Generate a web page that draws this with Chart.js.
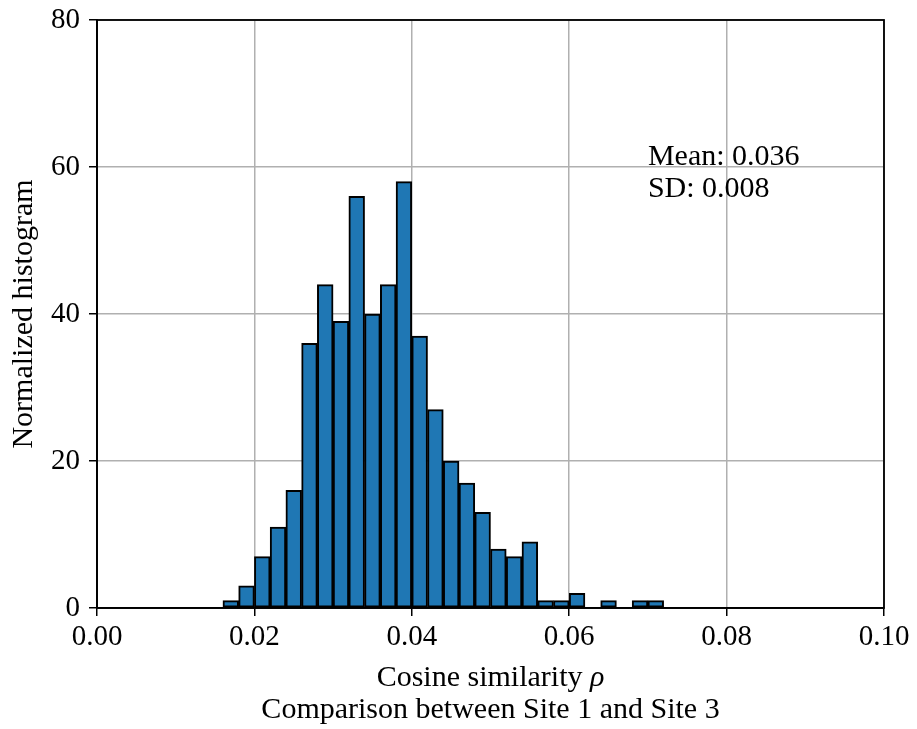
<!DOCTYPE html>
<html>
<head>
<meta charset="utf-8">
<script src="https://cdn.jsdelivr.net/npm/chart.js@4.4.1/dist/chart.umd.min.js"></script>
<style>
  html, body { margin: 0; padding: 0; background: #fff; }
  #wrap { width: 917px; height: 729px; position: relative; }
</style>
</head>
<body>
<div id="wrap"><canvas id="hist"></canvas></div>
<script>
// Histogram of cosine similarity, Site 1 vs Site 3
const BIN_WIDTH = 0.002;
const binStarts = [
  0.016, 0.018, 0.020, 0.022, 0.024, 0.026, 0.028, 0.030, 0.032, 0.034,
  0.036, 0.038, 0.040, 0.042, 0.044, 0.046, 0.048, 0.050, 0.052, 0.054,
  0.056, 0.058, 0.060, 0.062, 0.064, 0.066, 0.068, 0.070
];
const counts = [
  1, 3, 7, 11, 16, 36, 44, 39, 56, 40,
  44, 58, 37, 27, 20, 17, 13, 8, 7, 9,
  1, 1, 2, null, 1, null, 1, 1
];
const xTicks = [0, 0.02, 0.04, 0.06, 0.08, 0.10];
const yTicks = [0, 20, 40, 60, 80];
const statLines = ['Mean: 0.036', 'SD: 0.008'];
const statAt = { x: 0.07, y: 60 };
const xLabel = 'Cosine similarity ';
const xLabelSymbol = 'ρ';
const xSubLabel = 'Comparison between Site 1 and Site 3';

const FONT = 'Liberation Serif, "Times New Roman", serif';

const points = binStarts.map((b, i) => ({ x: b + BIN_WIDTH / 2, y: counts[i] }));

// box around the plot area, the Mean/SD note and the two-line x label
const framePlugin = {
  id: 'frame',
  afterDatasetsDraw(chart) {
    const { ctx, chartArea: a, scales } = chart;
    ctx.save();
    ctx.strokeStyle = '#000';
    ctx.lineWidth = 1.8;
    ctx.strokeRect(a.left, a.top, a.right - a.left, a.bottom - a.top);

    ctx.fillStyle = '#000';
    ctx.font = '30px ' + FONT;
    ctx.textAlign = 'left';
    ctx.textBaseline = 'alphabetic';
    const px = scales.x.getPixelForValue(statAt.x);
    const py = scales.y.getPixelForValue(statAt.y) - 2;
    statLines.forEach((t, i) => ctx.fillText(t, px, py + i * 32));

    // x label: plain text followed by an italic symbol, centred as one run
    const cx = (a.left + a.right) / 2;
    ctx.font = '30px ' + FONT;
    const w1 = ctx.measureText(xLabel).width;
    ctx.font = 'italic 30px ' + FONT;
    const w2 = ctx.measureText(xLabelSymbol).width;
    const x0 = cx - (w1 + w2) / 2;
    ctx.font = '30px ' + FONT;
    ctx.fillText(xLabel, x0, 686);
    ctx.font = 'italic 30px ' + FONT;
    ctx.fillText(xLabelSymbol, x0 + w1, 686);

    ctx.font = '30px ' + FONT;
    ctx.textAlign = 'center';
    ctx.fillText(xSubLabel, cx, 718);
    ctx.restore();
  }
};

new Chart(document.getElementById('hist'), {
  type: 'bar',
  data: {
    datasets: [{
      data: points,
      backgroundColor: '#1f77b4',
      borderColor: '#000',
      borderWidth: 2,
      borderSkipped: false,
      barPercentage: 1,
      categoryPercentage: 1
    }]
  },
  options: {
    responsive: true,
    maintainAspectRatio: false,
    animation: false,
    layout: { padding: { left: 0, right: 33, top: 20, bottom: 0 } },
    plugins: { legend: { display: false }, tooltip: { enabled: false } },
    scales: {
      x: {
        type: 'linear',
        min: 0, max: 0.1,
        offset: false,
        afterBuildTicks: s => { s.ticks = xTicks.map(v => ({ value: v })); },
        afterFit: s => { s.height = 121; s.paddingLeft = 0; s.paddingRight = 0; },
        grid: { color: '#b0b0b0', lineWidth: 1.5, tickColor: '#000', tickLength: 8, tickWidth: 1.5, offset: false },
        border: { color: '#000', width: 1.8 },
        ticks: {
          color: '#000', padding: 4, maxRotation: 0,
          font: { family: FONT, size: 29 },
          callback: v => v.toFixed(2)
        }
      },
      y: {
        min: 0, max: 80,
        afterBuildTicks: s => { s.ticks = yTicks.map(v => ({ value: v })); },
        afterFit: s => { s.width = 97; s.paddingTop = 0; s.paddingBottom = 0; },
        grid: { color: '#b0b0b0', lineWidth: 1.5, tickColor: '#000', tickLength: 8, tickWidth: 1.5 },
        border: { color: '#000', width: 1.8 },
        ticks: { color: '#000', padding: 9, font: { family: FONT, size: 29 } },
        title: {
          display: true,
          text: 'Normalized histogram',
          color: '#000',
          font: { family: FONT, size: 30 },
          padding: { top: 6, bottom: 0 }
        }
      }
    }
  },
  plugins: [framePlugin]
});
</script>
</body>
</html>
